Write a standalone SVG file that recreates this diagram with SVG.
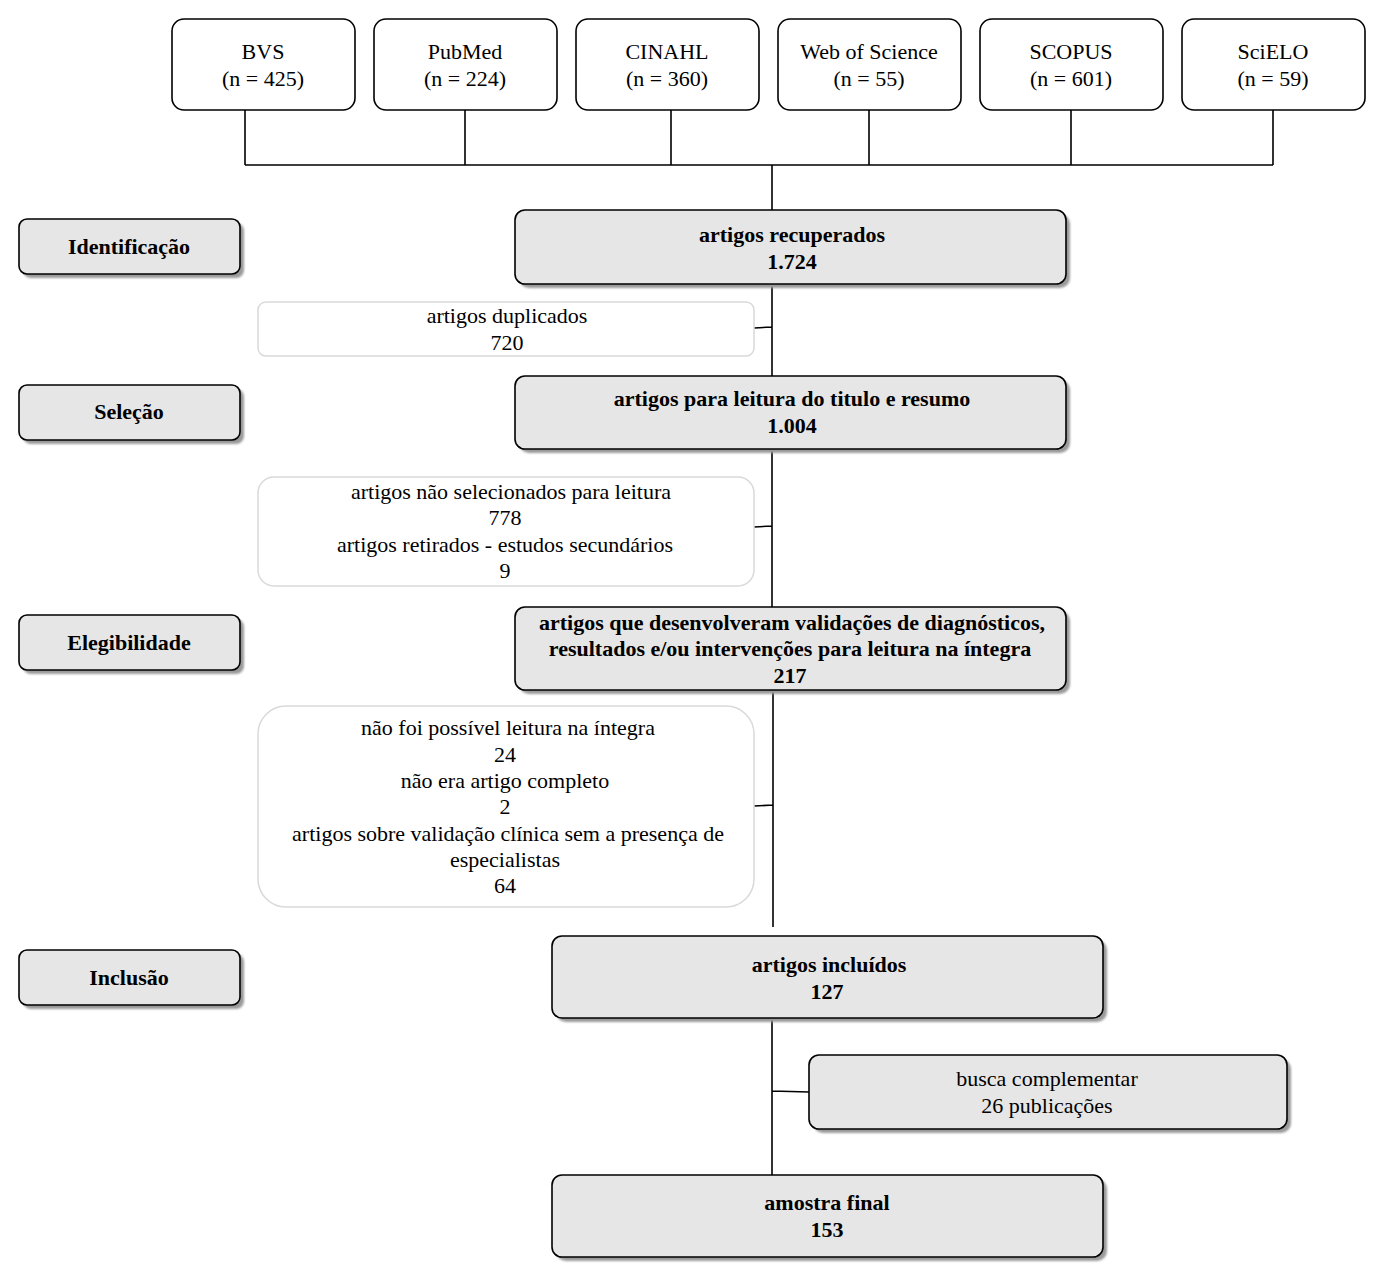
<svg xmlns="http://www.w3.org/2000/svg" width="1385" height="1282" viewBox="0 0 1385 1282">
<defs>
<style>
text{font-family:"Liberation Serif","Times New Roman",serif;font-size:22px;text-anchor:middle;fill:#000}
.b{font-weight:bold}
.src{fill:#fff;stroke:#000;stroke-width:1.6}
.gray{fill:#e6e6e6;stroke:#000;stroke-width:1.6}
.sh{fill:#9a9a9a;filter:url(#blur)}
.wht{fill:#fff;stroke:#d9d9d9;stroke-width:1.5}
.ln{stroke:#000;stroke-width:1.6;fill:none}
</style>
<filter id="blur" x="-5%" y="-20%" width="110%" height="140%"><feGaussianBlur stdDeviation="1"/></filter>
</defs>
<rect width="1385" height="1282" fill="#fff"/>
<g id="connectors">
<path class="ln" d="M245 110V165M465 110V165M671 110V165M869 110V165M1071 110V165M1273 110V165M245 165H1273M772 165V210"/>
<path class="ln" d="M772 284V376M754 328L772 327"/>
<path class="ln" d="M772 449V607M754 527L772 526"/>
<path class="ln" d="M773 690V927M754 806L773 805"/>
<path class="ln" d="M772 1018V1175M772 1091L809 1092"/>
</g>
<g id="bvs"><rect class="src" x="172" y="19" width="183" height="91" rx="12"/><text x="263" y="59">BVS</text><text x="263" y="86">(n = 425)</text></g>
<g id="pubmed"><rect class="src" x="374" y="19" width="183" height="91" rx="12"/><text x="465" y="59">PubMed</text><text x="465" y="86">(n = 224)</text></g>
<g id="cinahl"><rect class="src" x="576" y="19" width="183" height="91" rx="12"/><text x="667" y="59">CINAHL</text><text x="667" y="86">(n = 360)</text></g>
<g id="wos"><rect class="src" x="778" y="19" width="183" height="91" rx="12"/><text x="869" y="59">Web of Science</text><text x="869" y="86">(n = 55)</text></g>
<g id="scopus"><rect class="src" x="980" y="19" width="183" height="91" rx="12"/><text x="1071" y="59">SCOPUS</text><text x="1071" y="86">(n = 601)</text></g>
<g id="scielo"><rect class="src" x="1182" y="19" width="183" height="91" rx="12"/><text x="1273" y="59">SciELO</text><text x="1273" y="86">(n = 59)</text></g>

<g id="lbl-identificacao"><rect class="sh" x="23" y="223" width="221" height="55" rx="8"/><rect class="gray" x="19" y="219" width="221" height="55" rx="8"/><text class="b" x="129" y="254">Identificação</text></g>
<g id="lbl-selecao"><rect class="sh" x="23" y="389" width="221" height="55" rx="8"/><rect class="gray" x="19" y="385" width="221" height="55" rx="8"/><text class="b" x="129" y="419">Seleção</text></g>
<g id="lbl-elegibilidade"><rect class="sh" x="23" y="619" width="221" height="55" rx="8"/><rect class="gray" x="19" y="615" width="221" height="55" rx="8"/><text class="b" x="129" y="650">Elegibilidade</text></g>
<g id="lbl-inclusao"><rect class="sh" x="23" y="954" width="221" height="55" rx="8"/><rect class="gray" x="19" y="950" width="221" height="55" rx="8"/><text class="b" x="129" y="985">Inclusão</text></g>

<g id="recuperados"><rect class="sh" x="519" y="214" width="551" height="74" rx="10"/><rect class="gray" x="515" y="210" width="551" height="74" rx="10"/><text class="b" x="792" y="242">artigos recuperados</text><text class="b" x="792" y="269">1.724</text></g>
<g id="duplicados"><rect class="wht" x="258" y="302" width="496" height="54" rx="8"/><text x="507" y="323">artigos duplicados</text><text x="507" y="350">720</text></g>
<g id="leitura"><rect class="sh" x="519" y="380" width="551" height="73" rx="10"/><rect class="gray" x="515" y="376" width="551" height="73" rx="10"/><text class="b" x="792" y="406">artigos para leitura do titulo e resumo</text><text class="b" x="792" y="433">1.004</text></g>
<g id="nao-selecionados"><rect class="wht" x="258" y="477" width="496" height="109" rx="16"/><text x="511" y="499">artigos não selecionados para leitura</text><text x="505" y="525">778</text><text x="505" y="552">artigos retirados - estudos secundários</text><text x="505" y="578">9</text></g>
<g id="desenvolveram"><rect class="sh" x="519" y="611" width="551" height="83" rx="10"/><rect class="gray" x="515" y="607" width="551" height="83" rx="10"/><text class="b" x="792" y="630">artigos que desenvolveram validações de diagnósticos,</text><text class="b" x="790" y="656">resultados e/ou intervenções para leitura na íntegra</text><text class="b" x="790" y="683">217</text></g>
<g id="excluidos-integra"><rect class="wht" x="258" y="706" width="496" height="201" rx="28"/><text x="508" y="735">não foi possível leitura na íntegra</text><text x="505" y="762">24</text><text x="505" y="788">não era artigo completo</text><text x="505" y="814">2</text><text x="508" y="841">artigos sobre validação clínica sem a presença de</text><text x="505" y="867">especialistas</text><text x="505" y="893">64</text></g>
<g id="incluidos"><rect class="sh" x="556" y="940" width="551" height="82" rx="10"/><rect class="gray" x="552" y="936" width="551" height="82" rx="10"/><text class="b" x="829" y="972">artigos incluídos</text><text class="b" x="827" y="999">127</text></g>
<g id="busca"><rect class="sh" x="813" y="1059" width="478" height="74" rx="10"/><rect class="gray" x="809" y="1055" width="478" height="74" rx="10"/><text x="1047" y="1086">busca complementar</text><text x="1047" y="1113">26 publicações</text></g>
<g id="amostra"><rect class="sh" x="556" y="1179" width="551" height="82" rx="10"/><rect class="gray" x="552" y="1175" width="551" height="82" rx="10"/><text class="b" x="827" y="1210">amostra final</text><text class="b" x="827" y="1237">153</text></g>
</svg>
